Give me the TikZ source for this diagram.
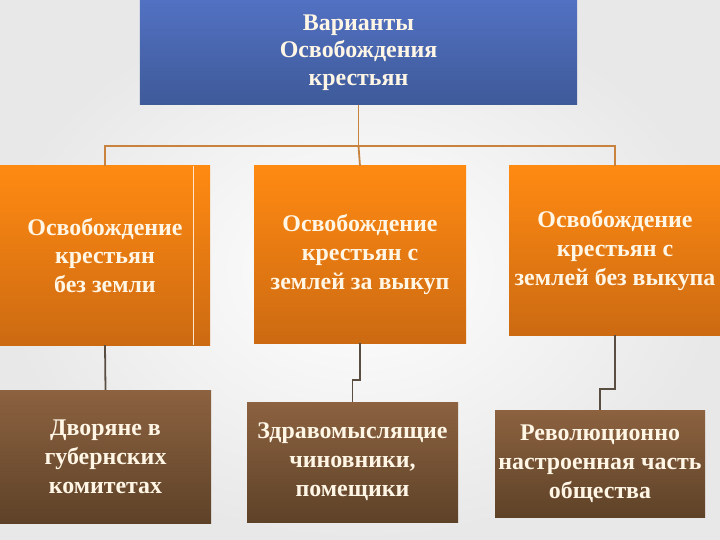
\documentclass[tikz,border=0pt]{standalone}
\usepackage{fontspec}
\setmainfont{Liberation Serif}
\usepackage{tikz}
\usetikzlibrary{positioning}
\definecolor{bluetop}{HTML}{5271C2}
\definecolor{bluebot}{HTML}{3E5A99}
\definecolor{orangetop}{HTML}{FF8A12}
\definecolor{orangebot}{HTML}{CC6A12}
\definecolor{browntop}{HTML}{8C6240}
\definecolor{brownbot}{HTML}{5E4228}
\definecolor{linktan}{HTML}{C8843E}
\definecolor{linkgray}{HTML}{5A4E42}
\definecolor{lighttext}{HTML}{FFF6E6}

\begin{document}
\begin{tikzpicture}[x=1bp, y=-1bp,
    box/.style={rectangle, inner sep=0pt, align=center, text=lighttext,
      font=\bfseries\fontsize{24}{29}\selectfont},
    titlebox/.style={box, top color=bluetop, bottom color=bluebot,
      font=\bfseries\fontsize{24}{27.5}\selectfont},
    variant/.style={box, top color=orangetop, bottom color=orangebot},
    group/.style={box, top color=browntop, bottom color=brownbot},
    topline/.style={draw=linktan, line width=1.8pt},
    lowline/.style={draw=linkgray, line width=1.8pt}]
    \useasboundingbox (0,0) rectangle (720,540);
    \shade[inner color=white, outer color=black!9] (0,0) rectangle (720,540);

    \node[titlebox, minimum width=437bp, minimum height=105bp] (title) at (358.5,52.5)
      {Варианты\\ Освобождения\\ крестьян};

    \node[variant, minimum width=210bp, minimum height=179bp] (nozemli) at (105,255.5)
      {Освобождение\\ крестьян\\ без земли};
    \draw[white!80!orange, line width=0.8pt] (193,166) -- (193,345);
    \node[variant, minimum width=212bp, minimum height=177bp] (vykup) at (360,254.5)
      {Освобождение\\ крестьян с\\ землей за выкуп};
    \node[variant, minimum width=212bp, minimum height=169bp] (bezvykupa) at (615,250.5)
      {Освобождение\\ крестьян с\\ землей без выкупа};

    \node[group, minimum width=211bp, minimum height=133bp] (dvoryane) at (105.5,456.5)
      {Дворяне в\\ губернских\\ комитетах};
    \node[group, minimum width=211bp, minimum height=120bp] (chinovniki) at (352.5,462)
      {Здравомыслящие\\ чиновники,\\ помещики};
    \node[group, minimum width=210bp, minimum height=107bp] (revol) at (600,463.5)
      {Революционно\\ настроенная часть\\ общества};

    % links
    \coordinate (hub) at (title.south |- 0,146);
    \draw[topline] (title.south) -- (hub);
    \draw[topline] (nozemli.north) |- (hub) -| (bezvykupa.north);
    \draw[topline] (hub) -- (vykup.north);

    \draw[lowline] (nozemli.south) -- (dvoryane.north);
    \draw[lowline] (vykup.south) -- ++(0,37) -| (chinovniki.north);
    \draw[lowline] (bezvykupa.south) -- ++(0,54) -| (revol.north);
\end{tikzpicture}
\end{document}
